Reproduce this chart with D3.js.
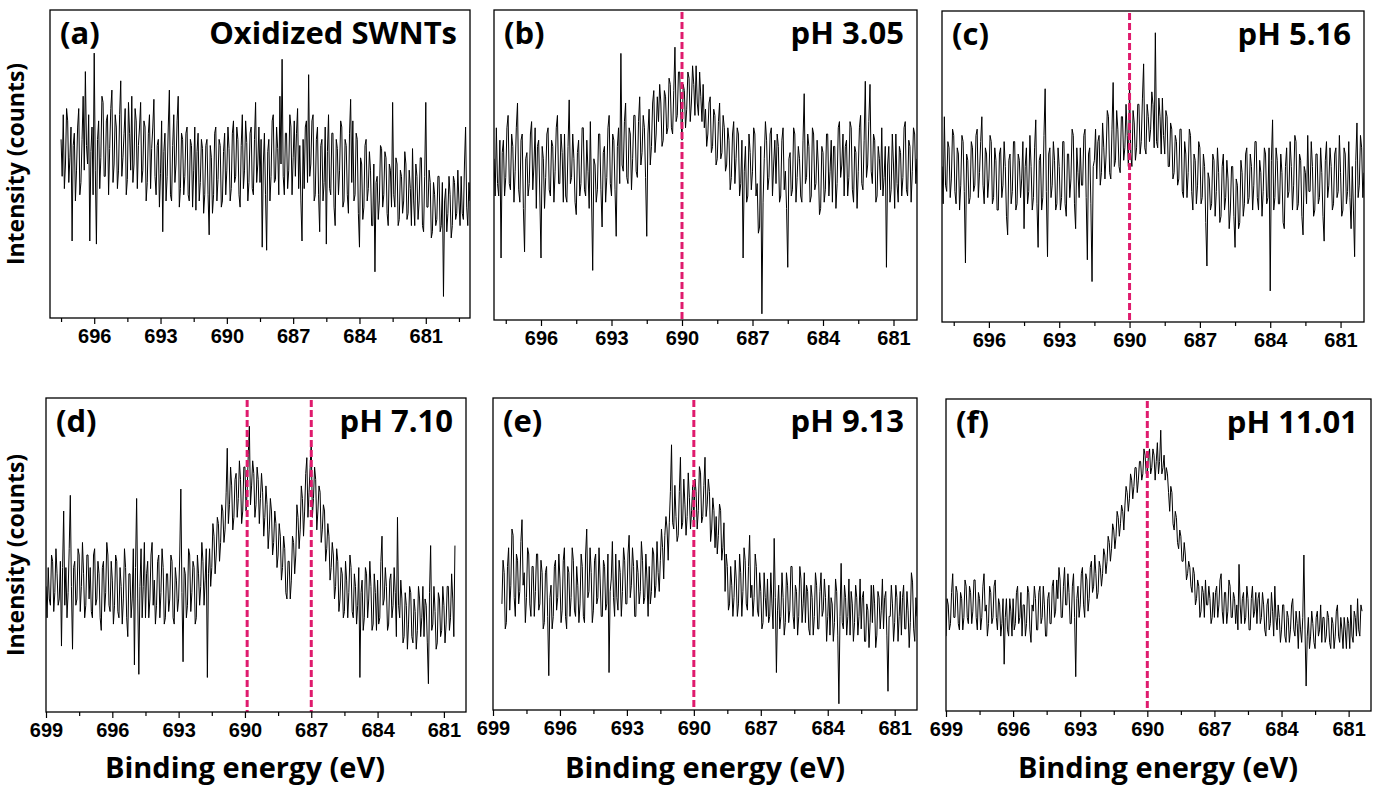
<!DOCTYPE html>
<html>
<head>
<meta charset="utf-8">
<script src="https://cdn.jsdelivr.net/npm/d3@7"></script>
<style>
  html, body { margin: 0; padding: 0; background: #fff; }
  svg { display: block; }
</style>
</head>
<body>
<svg id="chart" width="1382" height="800"></svg>
<script>
// ---------------- DATA ----------------
const eStep = 0.05; // eV spacing of spectrum points

// (a) Oxidized SWNTs, 697.5 -> 679.0 eV
const startA = 697.5;
const intensityA = [
  58,46,66,42,50,68,64,44,52,62,25,56,
  60,38,48,62,68,40,44,58,72,48,80,56,50,66,25,54,62,40,86,48,
  24,58,64,42,52,72,70,46,46,64,66,40,55,68,74,44,50,66,62,42,
  48,66,77,46,52,60,68,40,45,70,60,48,72,44,50,68,64,42,56,62,
  70,44,48,64,62,38,44,60,66,42,55,62,71,46,40,56,58,36,47,64,
  28,54,60,38,46,62,74,40,38,56,66,44,50,64,72,36,42,60,58,40,
  46,60,62,40,38,58,56,36,48,62,35,54,60,38,44,58,55,34,40,56,
  58,40,27,56,52,34,40,60,62,38,45,58,56,36,38,54,60,40,48,62,
  55,38,42,60,64,44,46,62,58,40,36,56,66,42,48,64,57,38,44,60,
  62,42,40,58,70,44,50,62,44,58,23,50,60,40,22,54,58,38,46,64,
  66,44,45,62,55,40,72,50,84,46,40,60,60,42,48,66,62,40,52,64,
  46,60,68,42,56,38,25,58,42,62,64,44,79,46,50,64,66,38,40,58,
  62,40,28,56,58,38,44,62,24,54,66,42,40,60,60,36,30,58,55,40,
  48,64,62,36,38,58,56,40,34,60,71,44,64,38,40,60,58,34,23,52,
  50,32,36,56,58,38,42,54,48,30,30,50,15,44,46,32,38,56,55,36,
  40,54,52,34,30,50,48,36,70,40,36,52,50,30,32,48,46,34,38,54,
  50,32,34,48,42,30,55,38,30,50,46,32,38,52,52,30,28,46,70,36,
  36,48,44,26,28,44,40,30,32,46,46,28,30,44,7,38,42,28,34,46,
  40,26,30,46,44,32,34,48,38,30,46,34,32,50,62,36,30,44,38
];

// (b) pH 3.05, 698.0 -> 680.0 eV
const startB = 698.0;
const intensityB = [
  52,40,62,44,40,58,20,54,58,40,46,62,66,44,42,60,56,38,48,62,
  70,42,38,58,60,36,22,52,54,40,44,60,64,42,50,62,36,56,58,40,
  20,56,52,36,46,60,62,42,40,58,56,38,48,62,66,44,44,60,54,38,
  60,40,38,56,71,44,46,60,52,38,34,54,58,40,44,62,62,42,40,58,
  48,36,64,40,16,52,50,38,42,60,60,42,30,54,56,38,46,62,66,44,
  40,60,58,42,27,56,62,44,86,50,48,64,70,46,44,62,60,42,52,66,
  66,48,46,64,72,50,54,66,62,46,27,60,68,50,56,70,74,54,60,72,
  64,76,70,56,58,74,72,60,62,78,76,62,60,74,88,64,66,80,80,66,
  58,76,74,62,68,80,78,64,70,82,76,66,82,70,66,80,72,64,76,62,
  68,56,60,70,72,54,56,68,66,50,52,64,70,52,54,66,62,48,50,62,
  58,42,46,60,64,44,52,62,60,40,44,58,20,48,56,38,40,60,54,42,
  48,62,60,40,44,28,30,56,2,38,52,64,58,42,46,60,62,40,50,58,
  44,60,56,38,40,58,62,42,48,36,17,52,54,40,42,62,60,38,46,56,
  52,40,38,58,73,44,46,60,56,38,40,62,60,42,44,58,50,34,36,56,
  54,38,42,60,60,40,48,58,38,56,56,36,44,62,64,46,50,60,40,56,
  58,40,46,64,62,42,38,56,54,36,48,62,66,44,42,58,77,46,50,64,
  76,48,44,60,58,38,40,56,52,42,62,40,46,56,17,50,56,38,42,60,
  50,36,60,44,38,56,54,40,46,62,64,42,40,58,56,38,48,62,60,44,
  52
];

// (c) pH 5.16, 698.0 -> 680.0 eV
const startC = 698.0;
const intensityC = [
  50,38,66,44,42,58,56,40,46,62,60,42,38,56,54,36,44,60,58,42,
  19,54,52,38,40,58,56,42,44,60,62,40,48,58,66,44,38,56,54,40,
  46,60,58,38,40,56,52,36,36,54,56,40,44,58,50,34,28,52,54,38,
  42,58,58,36,38,54,52,40,46,58,30,50,56,38,42,60,50,36,40,56,
  65,38,24,52,54,36,40,60,75,42,21,54,56,40,44,58,52,36,38,56,
  50,36,40,58,58,38,34,54,54,40,46,62,60,38,30,56,48,40,56,44,
  44,60,62,40,20,54,56,38,13,50,52,62,46,58,60,44,48,64,56,46,
  54,68,66,48,46,62,77,50,52,68,62,50,48,66,66,52,56,70,60,50,
  77,54,50,68,64,52,56,70,70,54,58,72,83,56,54,70,66,58,62,74,
  70,56,93,58,56,72,66,54,72,60,54,68,66,50,50,64,62,46,48,60,
  58,44,46,62,62,42,40,58,54,40,48,62,60,42,36,54,52,38,44,58,
  56,38,40,54,50,32,18,48,46,36,38,54,52,34,42,56,48,32,34,50,
  54,36,40,52,46,30,36,50,50,34,24,46,44,30,32,52,48,34,38,54,
  56,38,40,54,50,36,44,58,58,40,36,52,48,34,42,56,54,38,40,56,
  10,52,65,36,40,56,52,38,38,54,48,32,30,50,56,40,42,58,50,36,
  44,60,58,36,38,54,52,34,28,50,48,38,60,42,42,58,50,34,36,54,
  54,38,40,56,48,34,26,52,58,40,44,56,50,36,38,54,56,40,42,60,
  48,34,36,56,54,38,42,58,40,30,50,36,21,52,64,40,44,60,56,40,
  48
];

// (d) pH 7.10, 699.0 -> 680.5 eV
const startD = 699.0;
const intensityD = [
  40,30,46,36,34,50,48,32,38,52,44,34,36,48,21,46,64,34,46,30,
  38,52,69,40,20,46,48,34,36,52,50,32,40,54,44,30,34,50,50,36,
  46,32,30,50,52,34,36,48,44,30,26,46,48,32,38,54,50,34,32,48,
  42,28,34,50,48,32,30,46,40,28,36,52,46,30,24,44,44,30,36,52,
  15,46,68,36,12,40,52,30,40,54,30,44,48,30,36,50,54,34,42,28,
  34,48,50,30,38,52,46,28,30,44,44,32,36,50,48,30,28,46,42,32,
  36,50,71,38,16,46,44,30,34,52,50,32,38,48,46,28,30,50,44,34,
  40,54,48,34,42,52,11,44,52,40,46,60,56,44,50,62,60,48,54,66,
  64,54,58,70,84,60,66,78,72,58,62,74,76,62,68,80,74,60,64,78,
  78,64,70,82,91,66,72,80,76,62,66,78,74,60,68,76,70,56,62,72,
  66,52,58,68,64,50,54,64,60,46,50,60,56,42,46,56,52,38,36,48,
  48,36,42,56,54,44,50,66,62,52,58,72,68,56,64,76,81,62,70,78,
  86,62,68,78,74,58,64,72,70,54,58,66,64,48,52,60,56,42,46,54,
  50,36,40,52,48,32,36,46,44,30,32,48,42,30,38,50,46,32,30,44,
  40,28,34,46,11,38,42,26,30,46,44,30,36,48,40,26,28,44,38,26,
  42,28,30,48,56,34,36,46,40,26,28,42,44,30,34,46,38,24,62,34,
  30,42,36,22,24,38,34,20,28,40,38,24,22,36,32,20,26,40,36,24,
  30,40,24,36,34,22,9,38,53,26,28,40,32,20,22,38,36,24,26,40,
  34,22,28,40,40,26,30,44,36,24,53
];

// (e) pH 9.13, 698.6 -> 680.0 eV
const startE = 698.6;
const intensityE = [
  34,48,44,26,28,46,52,32,40,58,56,36,
  30,50,48,34,38,54,61,40,44,28,36,52,50,34,30,46,46,30,38,50,
  50,32,34,48,44,26,28,44,46,30,11,36,40,26,30,46,48,32,36,50,
  42,28,32,48,52,30,26,46,44,30,36,52,48,32,30,46,40,28,34,50,
  46,30,28,50,58,36,38,52,44,28,32,48,50,34,36,52,42,30,30,48,
  46,32,34,50,12,38,42,54,36,30,50,36,32,48,44,30,38,52,48,34,
  34,50,56,36,40,52,46,30,30,48,44,34,38,54,48,34,36,50,42,30,
  46,34,38,52,50,36,40,54,44,38,48,58,52,42,56,62,58,48,60,70,
  85,60,58,72,62,54,56,70,81,58,60,74,66,56,62,76,68,58,64,72,
  60,74,70,58,64,78,76,60,62,72,81,62,66,74,70,54,58,68,64,52,
  62,50,56,66,64,48,52,60,38,50,46,32,34,46,40,30,36,48,42,30,
  34,50,44,30,38,52,48,34,32,46,56,36,40,30,36,50,46,32,30,44,
  38,26,28,44,36,30,42,28,30,44,34,26,55,36,12,32,40,26,30,44,
  36,24,28,44,40,28,32,46,46,30,26,40,38,24,30,46,42,28,34,44,
  28,40,38,26,24,40,36,24,30,44,40,26,26,38,44,30,32,42,36,22,
  30,40,24,36,34,22,28,42,38,24,2,30,47,28,26,40,36,24,30,42,
  24,38,34,22,28,40,36,24,30,42,26,36,38,22,22,34,32,20,28,40,
  28,40,34,20,24,38,36,26,32,42,26,36,38,24,6,30,30,40,34,22,
  28,40,36,22,30,38,24,36,40,26,26,38,32,20,28,44,41,26,22,36,
  30
];

// (f) pH 11.01, 699.0 -> 680.4 eV
const startF = 699.0;
const intensityF = [
  24,36,34,26,28,38,44,30,30,40,38,28,26,38,36,26,30,42,40,30,
  28,40,38,28,32,42,42,30,26,38,36,26,30,40,44,32,34,24,28,40,
  38,28,30,40,42,30,26,36,34,24,28,36,15,30,36,26,24,36,32,24,
  36,26,28,38,40,28,30,38,24,34,34,24,28,40,38,26,22,34,32,40,
  36,26,26,38,40,28,30,40,34,24,24,36,38,28,28,40,42,30,32,42,
  36,46,42,30,30,40,46,34,34,44,38,28,28,40,44,30,11,36,40,30,
  34,44,46,34,30,44,42,32,36,46,48,38,40,50,44,36,38,48,46,40,
  44,52,50,44,48,56,54,48,52,60,58,52,56,64,62,56,60,66,64,58,
  66,72,70,64,68,76,74,68,72,78,78,70,74,80,80,74,76,84,82,76,
  76,82,84,76,78,84,82,74,80,86,76,80,90,76,78,82,74,78,76,70,
  64,72,70,60,58,64,62,54,52,58,56,48,48,54,50,42,44,48,46,40,
  38,46,44,34,36,42,40,30,32,40,38,30,42,34,34,40,36,28,30,38,
  30,38,40,30,34,42,44,32,28,38,38,28,32,42,40,30,30,38,36,28,
  34,26,47,34,28,36,38,28,30,40,36,26,26,36,40,30,32,38,28,36,
  38,28,30,38,34,26,24,34,36,26,28,38,32,24,40,30,26,34,30,22,
  26,34,34,24,22,32,30,22,26,34,36,26,24,32,28,20,32,26,22,30,
  50,26,8,24,30,20,24,32,28,22,20,30,32,24,26,34,22,30,30,22,
  24,32,30,22,20,30,28,20,24,32,34,24,22,30,26,20,30,26,20,30,
  28,20,34,24,22,32,30,24,36,26,24,34,32
];

// Tick labels
const majorTicksTop = [696, 693, 690, 687, 684, 681];
const majorTicksBottom = [699, 696, 693, 690, 687, 684, 681];
const minorTicks = [697.5, 694.5, 691.5, 688.5, 685.5, 682.5, 679.5];

// Panel texts and reference (dashed) energies
const panelLetters = ["(a)", "(b)", "(c)", "(d)", "(e)", "(f)"];
const panelTitles = ["Oxidized SWNTs", "pH 3.05", "pH 5.16", "pH 7.10", "pH 9.13", "pH 11.01"];
const markerLines = [[], [690], [690], [689.9, 687.0], [690], [690]];
const energyDomains = [[698, 679], [698, 680], [698, 680], [699, 680], [699, 680], [699, 680]];
const spectra = [
  [startA, intensityA], [startB, intensityB], [startC, intensityC],
  [startD, intensityD], [startE, intensityE], [startF, intensityF]
];

// ---------------- LAYOUT ----------------
const layout = [
  {x0: 50,  x1: 470,  y0: 10,  y1: 318, top: true},
  {x0: 494, x1: 917,  y0: 10,  y1: 320, top: true},
  {x0: 942, x1: 1364, y0: 11,  y1: 322, top: true},
  {x0: 46,  x1: 466,  y0: 398, y1: 712, top: false, titleX: 245},
  {x0: 493, x1: 917,  y0: 398, y1: 710, top: false, titleX: 705},
  {x0: 946, x1: 1371, y0: 399, y1: 711, top: false, titleX: 1158}
];

const svg = d3.select("#chart");
const titleFont = "'Open Sans', 'Noto Sans', sans-serif";
const tickFont = "'Liberation Sans', Arial, sans-serif";
const red = "#df1b6d";

layout.forEach((L, i) => {
  const x = d3.scaleLinear().domain(energyDomains[i]).range([L.x0, L.x1]);
  const y = d3.scaleLinear().domain([0, 100]).range([L.y1, L.y0]);
  const g = svg.append("g");

  const [e0, vals] = spectra[i];
  const pts = vals.map((v, k) => [e0 - k * eStep, v]);

  const clipId = "clip" + i;
  svg.append("clipPath").attr("id", clipId)
    .append("rect").attr("x", L.x0).attr("y", L.y0)
    .attr("width", L.x1 - L.x0).attr("height", L.y1 - L.y0);

  const line = d3.line().x(d => x(d[0])).y(d => y(d[1]));
  g.append("path").datum(pts)
    .attr("clip-path", `url(#${clipId})`)
    .attr("d", line)
    .attr("fill", "none")
    .attr("stroke", "#000")
    .attr("stroke-width", 1)
    .attr("stroke-linejoin", "miter");

  // dashed reference lines
  markerLines[i].forEach(e => {
    g.append("line")
      .attr("x1", x(e)).attr("x2", x(e))
      .attr("y1", L.y0 + 2).attr("y2", L.y1)
      .attr("stroke", red).attr("stroke-width", 3)
      .attr("stroke-dasharray", "7,3");
  });

  // frame
  g.append("rect")
    .attr("x", L.x0).attr("y", L.y0)
    .attr("width", L.x1 - L.x0).attr("height", L.y1 - L.y0)
    .attr("fill", "none").attr("stroke", "#000").attr("stroke-width", 1.3);

  // axes
  const majors = L.top ? majorTicksTop : majorTicksBottom;
  const dom = energyDomains[i];
  const minors = minorTicks.filter(t => t <= dom[0] && t >= dom[1]);
  const axMajor = d3.axisBottom(x).tickValues(majors).tickSize(6).tickPadding(5).tickFormat(d3.format("d"));
  const axMinor = d3.axisBottom(x).tickValues(minors).tickSize(4).tickFormat("");
  const gMinor = g.append("g").attr("transform", `translate(0,${L.y1})`).call(axMinor);
  const gMajor = g.append("g").attr("transform", `translate(0,${L.y1})`).call(axMajor);
  [gMinor, gMajor].forEach(ga => {
    ga.select(".domain").remove();
    ga.selectAll(".tick line").attr("stroke", "#000").attr("stroke-width", 1.2);
  });
  gMajor.selectAll(".tick text")
    .attr("fill", "#000")
    .style("font-family", tickFont)
    .style("font-weight", "bold")
    .style("font-size", "20px");

  // panel letter & title
  g.append("text")
    .attr("x", L.x0 + 10).attr("y", L.y0 + 34)
    .style("font-family", titleFont).style("font-weight", "bold").style("font-size", "31px")
    .text(panelLetters[i]);
  g.append("text")
    .attr("x", L.x1 - 13).attr("y", L.y0 + 34)
    .attr("text-anchor", "end")
    .style("font-family", titleFont).style("font-weight", "bold").style("font-size", "31px")
    .text(panelTitles[i]);

  // x title for bottom row
  if (!L.top) {
    g.append("text")
      .attr("x", L.titleX).attr("y", 778)
      .attr("text-anchor", "middle")
      .style("font-family", titleFont).style("font-weight", "bold").style("font-size", "29px")
      .text("Binding energy (eV)");
  }
});

// y titles
[164, 555].forEach(cy => {
  svg.append("text")
    .attr("transform", `translate(24,${cy}) rotate(-90)`)
    .attr("text-anchor", "middle")
    .style("font-family", titleFont).style("font-weight", "bold").style("font-size", "23px")
    .text("Intensity (counts)");
});
</script>
</body>
</html>
